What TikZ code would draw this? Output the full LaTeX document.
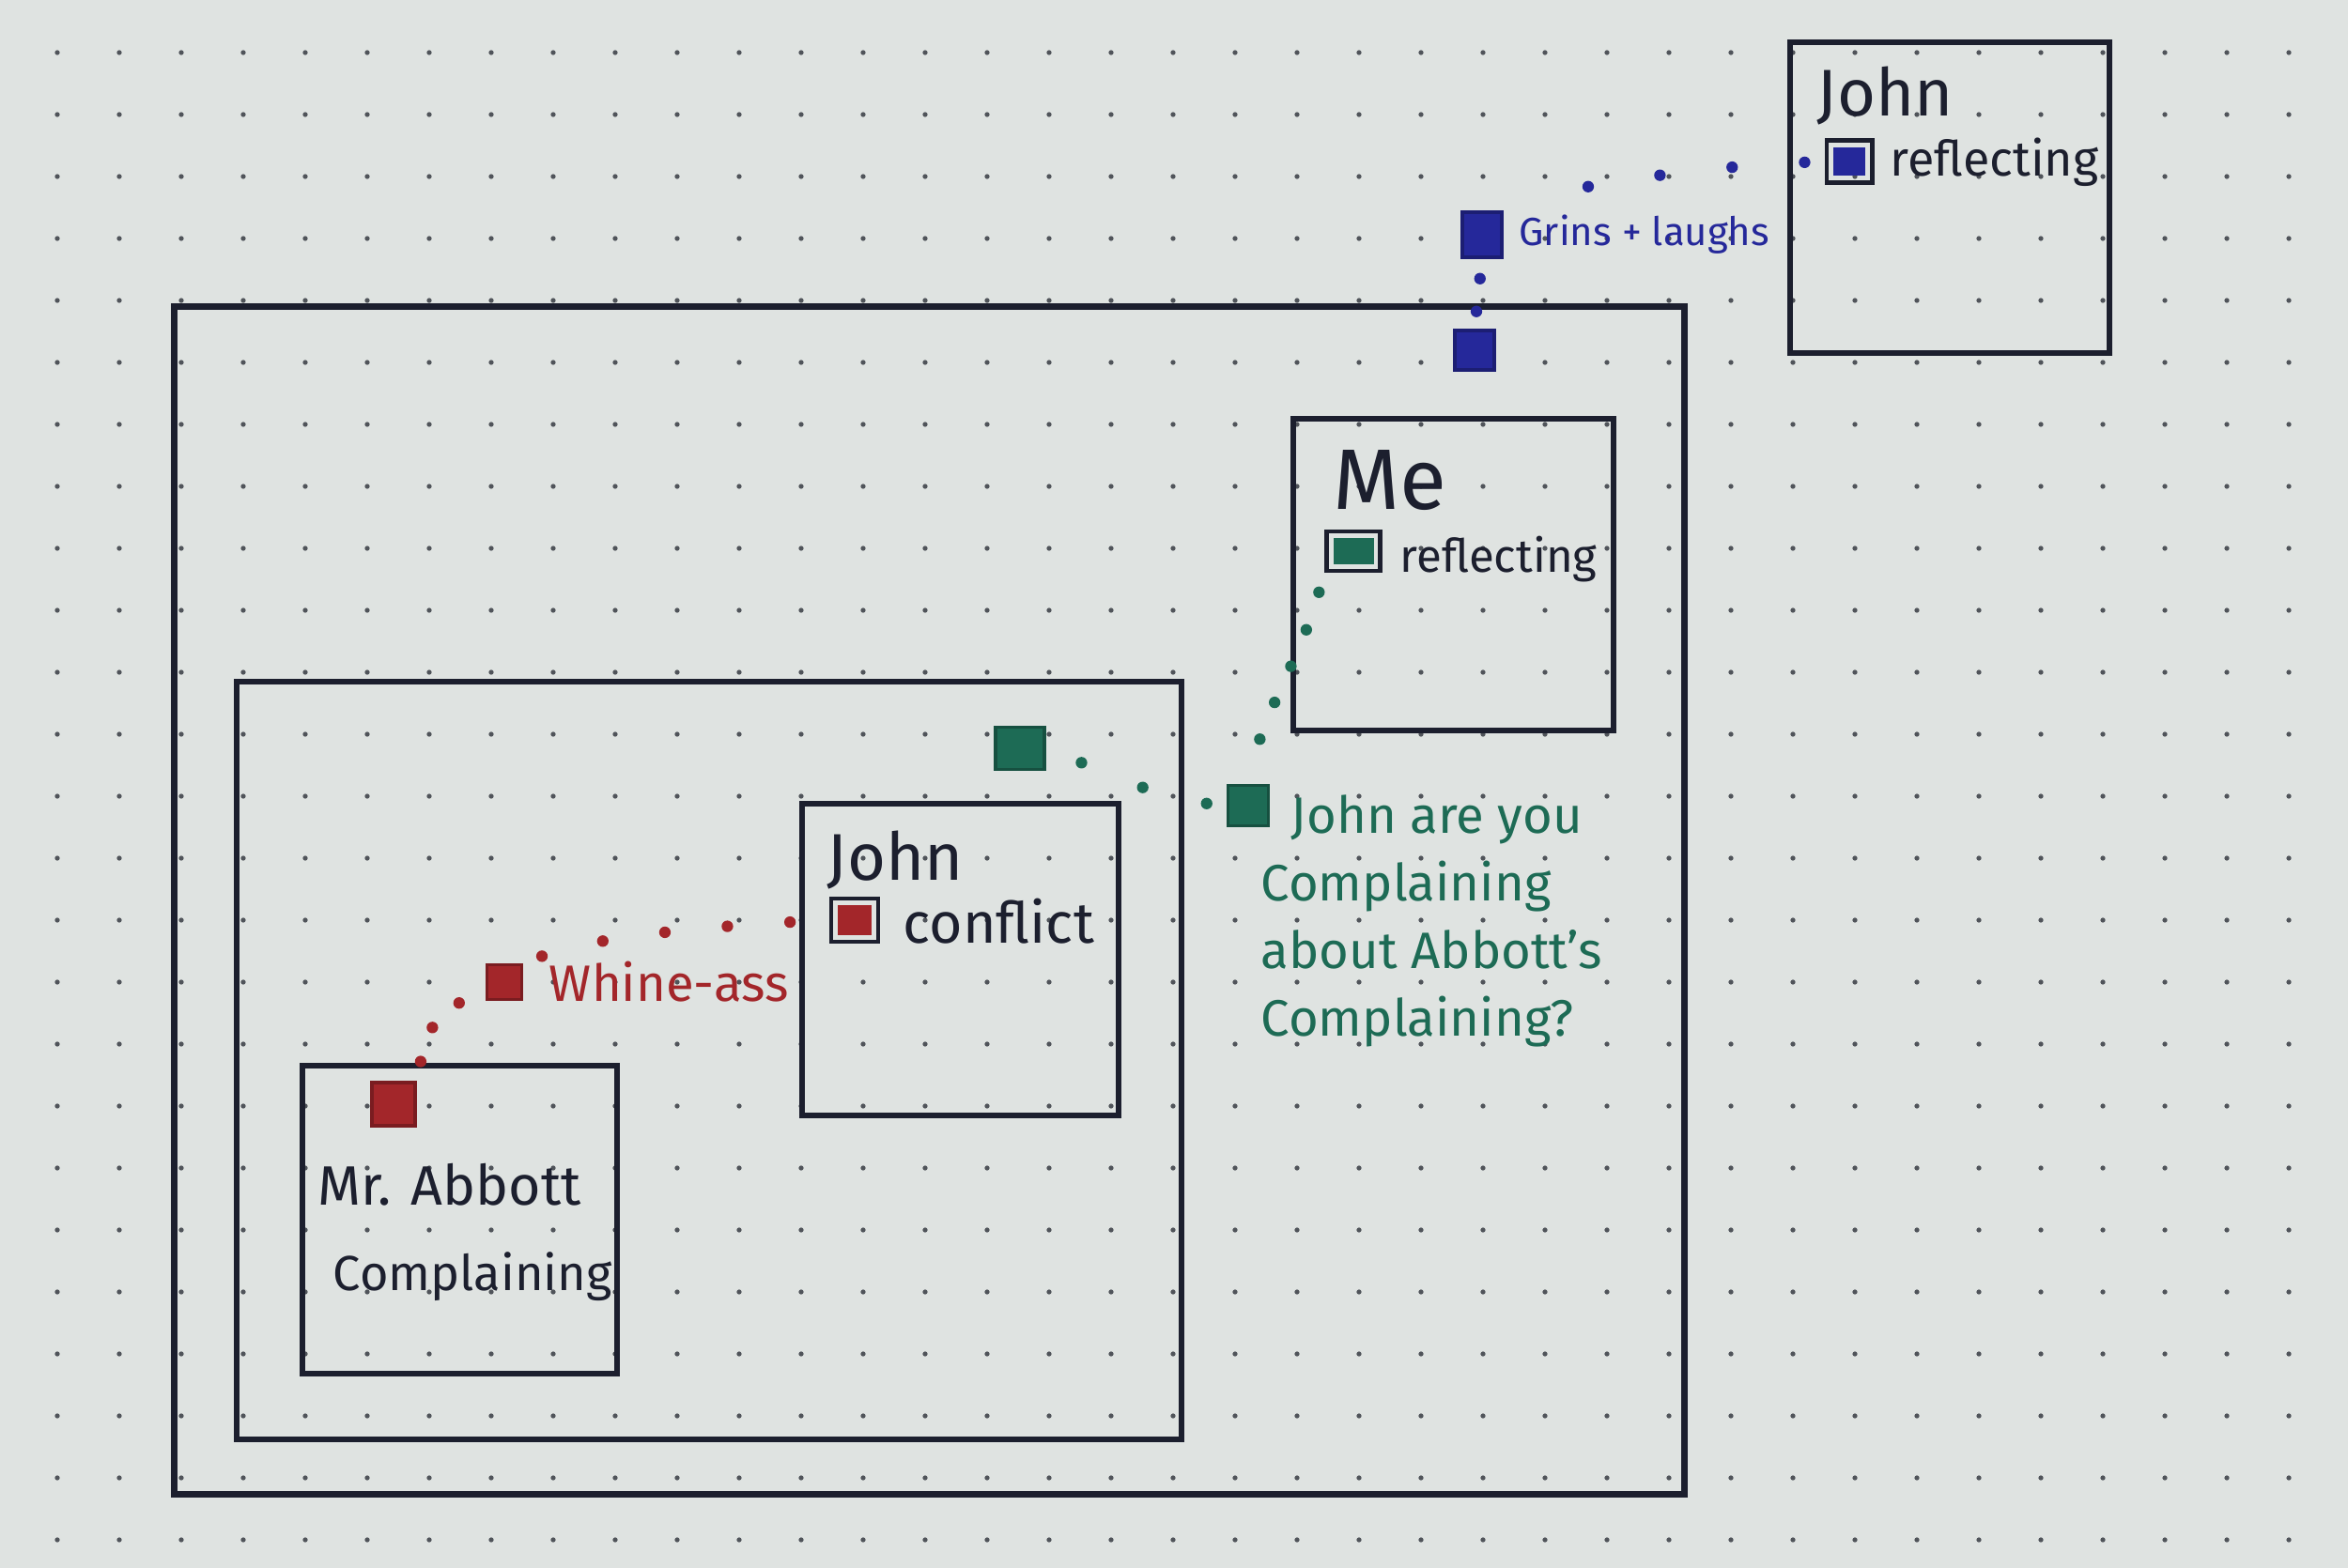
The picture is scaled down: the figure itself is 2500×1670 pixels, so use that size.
\documentclass[tikz,border=0pt]{standalone}
\usepackage{fontspec}
\setmainfont{Fira Sans}
\definecolor{paper}{HTML}{DFE3E1}
\definecolor{grid}{HTML}{50545A}
\definecolor{ink}{HTML}{1C1F2E}
\definecolor{inkred}{HTML}{A3262A}
\definecolor{inkgreen}{HTML}{1D6B55}
\definecolor{inkblue}{HTML}{25289A}
\usetikzlibrary{positioning}

\begin{document}
\begin{tikzpicture}[x=0.01cm,y=-0.01cm,
    frame/.style={draw=ink,line width=1.8pt,inner sep=0},
    who/.style={text=ink,anchor=base west,inner sep=0,font=\fontsize{20}{24}\selectfont},
    mood/.style={text=ink,anchor=base west,inner sep=0,font=\fontsize{15}{19}\selectfont},
    say/.style={text=#1,inner sep=0,font=\fontsize{15.5}{20.5}\selectfont},
    sq/.style={fill=#1,draw=#1!75!black,line width=1pt,inner sep=0,
      minimum width=0.42cm,minimum height=0.42cm},
    chk/.style={draw=ink,line width=1.4pt,inner sep=0,
      minimum width=0.5cm,minimum height=0.46cm,
      path picture={\fill[#1]([shift={(2pt,2pt)}]path picture bounding box.south west)
        rectangle ([shift={(-2pt,-2pt)}]path picture bounding box.north east);}},
    trail/.style={draw=#1,line width=3.5pt,line cap=round,
      dash pattern=on 0pt off 14pt,shorten <=6pt,shorten >=5pt},
  ]
    \fill[paper](0,0) rectangle (2500,1670);
    \foreach \i in {0,...,36}{\foreach \j in {0,...,24}{
      \fill[grid](61+66*\i,56+66*\j) circle (0.75pt);}}

    \node[frame,minimum width=16.07cm,minimum height=12.64cm](outer) at (989.5,959) {};
    \node[frame,minimum width=10.06cm,minimum height=8.07cm](inner) at (755,1129.5) {};
    \node[frame,minimum width=3.35cm,minimum height=3.28cm](abbott) at (489.5,1299) {};
    \node[frame,minimum width=3.37cm,minimum height=3.32cm](johnc) at (1022.5,1022) {};
    \node[frame,minimum width=3.41cm,minimum height=3.32cm](me) at (1547.5,612) {};
    \node[frame,minimum width=3.40cm,minimum height=3.31cm](johnr) at (2076,210.5) {};

    \node[who](n1) at (1934,124) {John};
    \node[mood,font=\fontsize{14.8}{19}\selectfont](s1) at (2012,188) {reflecting};
    \node[chk=inkblue,minimum width=0.48cm,minimum height=0.45cm](bc) at (1969,172) {};

    \node[who,font=\fontsize{26}{30}\selectfont](n2) at (1419,542) {Me};
    \node[mood,font=\fontsize{14}{18}\selectfont](s2) at (1490,609) {reflecting};
    \node[chk=inkgreen,minimum width=0.57cm,minimum height=0.42cm](gc) at (1441,587) {};

    \node[who](n3) at (880,937) {John};
    \node[mood,font=\fontsize{17.3}{21}\selectfont](s3) at (961,1004) {conflict};
    \node[chk=inkred](rc) at (910,980) {};

    \node[sq=inkred,minimum width=0.46cm,minimum height=0.46cm](a) at (419,1176) {};
    \node[mood,font=\fontsize{16.8}{21}\selectfont](n4) at (338,1283) {Mr. Abbott};
    \node[mood,font=\fontsize{14.9}{21}\selectfont](s4) at (354,1374) {Complaining};

    \node[sq=inkred,minimum width=0.37cm,minimum height=0.37cm](b) at (537,1046) {};
    \node[say=inkred,right=0.27cm of b](lb) {Whine-ass};

    \node[sq=inkgreen,minimum width=0.43cm,minimum height=0.43cm](c) at (1329,858) {};
    \node[say=inkgreen,anchor=north west,align=left](lc) at (1342,846)
      {\hspace*{0.32cm}John are you\\Complaining\\about Abbott's\\Complaining?};
    \node[sq=inkgreen,minimum width=0.52cm,minimum height=0.45cm](d) at (1086,797) {};

    \node[sq=inkblue,minimum width=0.42cm,minimum height=0.48cm](e) at (1578,250) {};
    \node[say=inkblue,font=\fontsize{11.9}{15}\selectfont,right=0.16cm of e](le) {Grins + laughs};
    \node[sq=inkblue](f) at (1570,373) {};

    \draw[trail=inkred,dash pattern=on 0pt off 11pt](a.north east) .. controls (455,1095) .. (b.west);
    \draw[trail=inkred,dash pattern=on 0pt off 19pt](b.north east) .. controls (640,995) and (780,985) .. (rc.west);
    \draw[trail=inkgreen,dash pattern=on 0pt off 12pt](gc.south west) .. controls (1385,700) and (1345,760) .. (c.north);
    \draw[trail=inkgreen,dash pattern=on 0pt off 20pt](c.west) .. controls (1230,850) and (1160,815) .. (d.east);
    \draw[trail=inkblue,dash pattern=on 0pt off 22pt](bc.west) .. controls (1800,178) and (1660,200) .. (e.north east);
    \draw[trail=inkblue,dash pattern=on 0pt off 10pt](e.south) -- (f.north);
  \end{tikzpicture}
\end{document}
